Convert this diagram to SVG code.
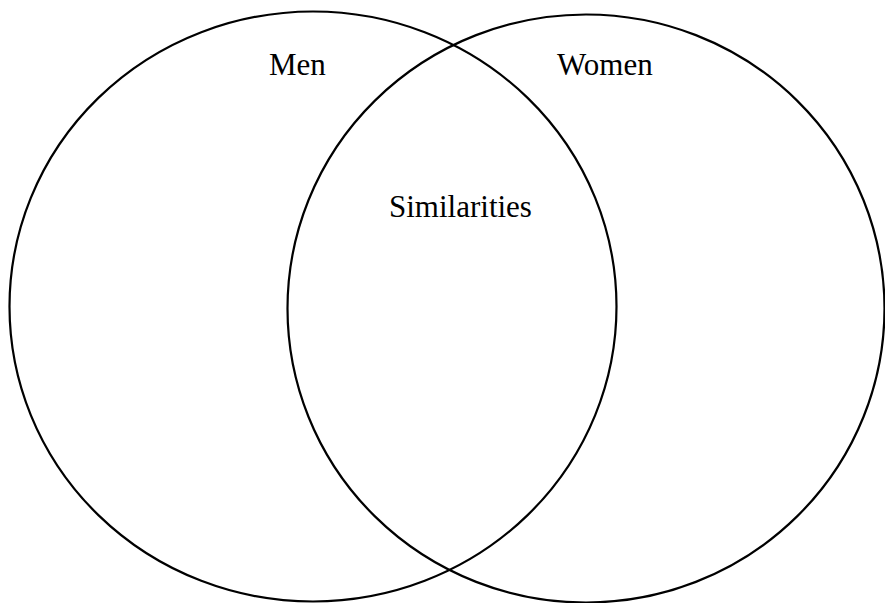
<svg xmlns="http://www.w3.org/2000/svg" width="885" height="603" viewBox="0 0 885 603">
<style>
.c{fill:none;stroke:#000;stroke-width:2.2}
.t{font-family:"Liberation Serif","Times New Roman",serif;font-size:31px;fill:#000}
</style>
<rect width="885" height="603" fill="#fff"/>
<g id="men">
<ellipse class="c" cx="313" cy="306.5" rx="303.5" ry="295"/>
<text class="t" x="269" y="74.5">Men</text>
</g>
<g id="women">
<ellipse class="c" cx="586" cy="308.5" rx="298.5" ry="294"/>
<text class="t" x="557" y="74.5">Women</text>
</g>
<g id="similarities">
<text class="t" x="389" y="217">Similarities</text>
</g>
<g id="connectors"></g>
</svg>
